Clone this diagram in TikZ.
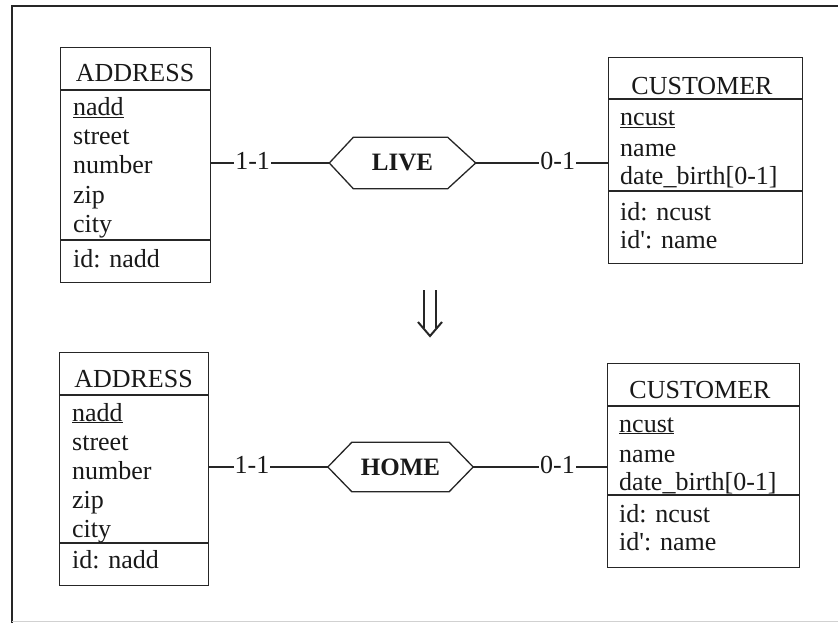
\documentclass[tikz,border=0pt]{standalone}
\usepackage{fontspec}
\setmainfont{Liberation Serif}
\begin{document}
\begin{tikzpicture}[x=1pt,y=-1pt,
  ink/.style={draw=black!85, line width=1.3pt},
  entity/.style={ink, inner sep=0pt, anchor=north west},
  txt/.style={anchor=base west, inner sep=0pt, font=\fontsize{26}{29}\selectfont, text=black!90},
  ttl/.style={anchor=base, inner sep=0pt, font=\fontsize{26}{29}\selectfont, text=black!90},
  relbox/.style={inner sep=0pt, minimum width=146pt, minimum height=51pt,
    font=\fontsize{25}{28}\selectfont\bfseries, text=black!90},
  card/.style={fill=white, inner sep=1pt, yshift=2.5pt, font=\fontsize{26}{29}\selectfont, text=black!90},
  sep/.style={ink}
]
\useasboundingbox (0,0) rectangle (838,623);
\fill[white] (0,0) rectangle (838,623);

% outer frame
\draw[ink, line width=1.6pt] (12,623) -- (12,6) -- (838,6);
\draw[black!18, line width=1pt] (12,621) -- (838,621);

% ---------- upper schema ----------
\node[entity, minimum width=150pt, minimum height=235pt] (addrA) at (60,47) {};
\draw[sep] ([yshift=-43pt]addrA.north west) -- ([yshift=-43pt]addrA.north east);
\draw[sep] ([yshift=-193pt]addrA.north west) -- ([yshift=-193pt]addrA.north east);
\node[ttl] (addrAt) at (135,82) {ADDRESS};
\node[txt] (addrA1) at (73,116) {\underline{nadd}};
\node[txt] (addrA2) at (73,145) {street};
\node[txt] (addrA3) at (73,174) {number};
\node[txt] (addrA4) at (73,203) {zip};
\node[txt] (addrA5) at (73,232) {city};
\node[txt] (addrA6) at (73,267) {id: nadd};

\node[entity, minimum width=194pt, minimum height=206pt] (custA) at (608,57) {};
\draw[sep] ([yshift=-42pt]custA.north west) -- ([yshift=-42pt]custA.north east);
\draw[sep] ([yshift=-134pt]custA.north west) -- ([yshift=-134pt]custA.north east);
\node[ttl] (custAt) at (702,95) {CUSTOMER};
\node[txt] (custA1) at (620,126) {\underline{ncust}};
\node[txt] (custA2) at (620,157) {name};
\node[txt] (custA3) at (620,185) {date\_birth[0-1]};
\node[txt] (custA4) at (620,220) {id: ncust};
\node[txt] (custA5) at (620,248) {id\textquotesingle: name};

\node[relbox] (live) at (402.5,163) {LIVE};
\draw[ink] (live.west) -- ([xshift=24pt]live.north west) -- ([xshift=-28pt]live.north east)
  -- (live.east) -- ([xshift=-28pt]live.south east) -- ([xshift=24pt]live.south west) -- cycle;

\draw[ink] (addrA.east |- live.west) -- node[card, pos=0.35] {1-1} (live.west);
\draw[ink] (live.east) -- node[card, pos=0.62] {0-1} (custA.west |- live.east);

% ---------- transformation arrow ----------
\draw[ink, line width=2pt] (424,290) -- (424,328);
\draw[ink, line width=2pt] (436,290) -- (436,328);
\draw[ink, line width=2pt] (418,322) -- (430,336) -- (442,322);

% ---------- lower schema ----------
\node[entity, minimum width=149pt, minimum height=233pt] (addrB) at (59,352) {};
\draw[sep] ([yshift=-43pt]addrB.north west) -- ([yshift=-43pt]addrB.north east);
\draw[sep] ([yshift=-191pt]addrB.north west) -- ([yshift=-191pt]addrB.north east);
\node[ttl] (addrBt) at (133.5,387) {ADDRESS};
\node[txt] (addrB1) at (72,421) {\underline{nadd}};
\node[txt] (addrB2) at (72,450) {street};
\node[txt] (addrB3) at (72,479) {number};
\node[txt] (addrB4) at (72,508) {zip};
\node[txt] (addrB5) at (72,537) {city};
\node[txt] (addrB6) at (72,568) {id: nadd};

\node[entity, minimum width=192pt, minimum height=204pt] (custB) at (607,363) {};
\draw[sep] ([yshift=-43pt]custB.north west) -- ([yshift=-43pt]custB.north east);
\draw[sep] ([yshift=-132pt]custB.north west) -- ([yshift=-132pt]custB.north east);
\node[ttl] (custBt) at (700,398) {CUSTOMER};
\node[txt] (custB1) at (619,432) {\underline{ncust}};
\node[txt] (custB2) at (619,462) {name};
\node[txt] (custB3) at (619,490) {date\_birth[0-1]};
\node[txt] (custB4) at (619,522) {id: ncust};
\node[txt] (custB5) at (619,550) {id\textquotesingle: name};

\node[relbox, minimum width=145pt, minimum height=49pt] (home) at (400.5,467) {HOME};
\draw[ink] (home.west) -- ([xshift=24pt]home.north west) -- ([xshift=-24pt]home.north east)
  -- (home.east) -- ([xshift=-24pt]home.south east) -- ([xshift=24pt]home.south west) -- cycle;

\draw[ink] (addrB.east |- home.west) -- node[card, pos=0.36] {1-1} (home.west);
\draw[ink] (home.east) -- node[card, pos=0.63] {0-1} (custB.west |- home.east);
\end{tikzpicture}
\end{document}
